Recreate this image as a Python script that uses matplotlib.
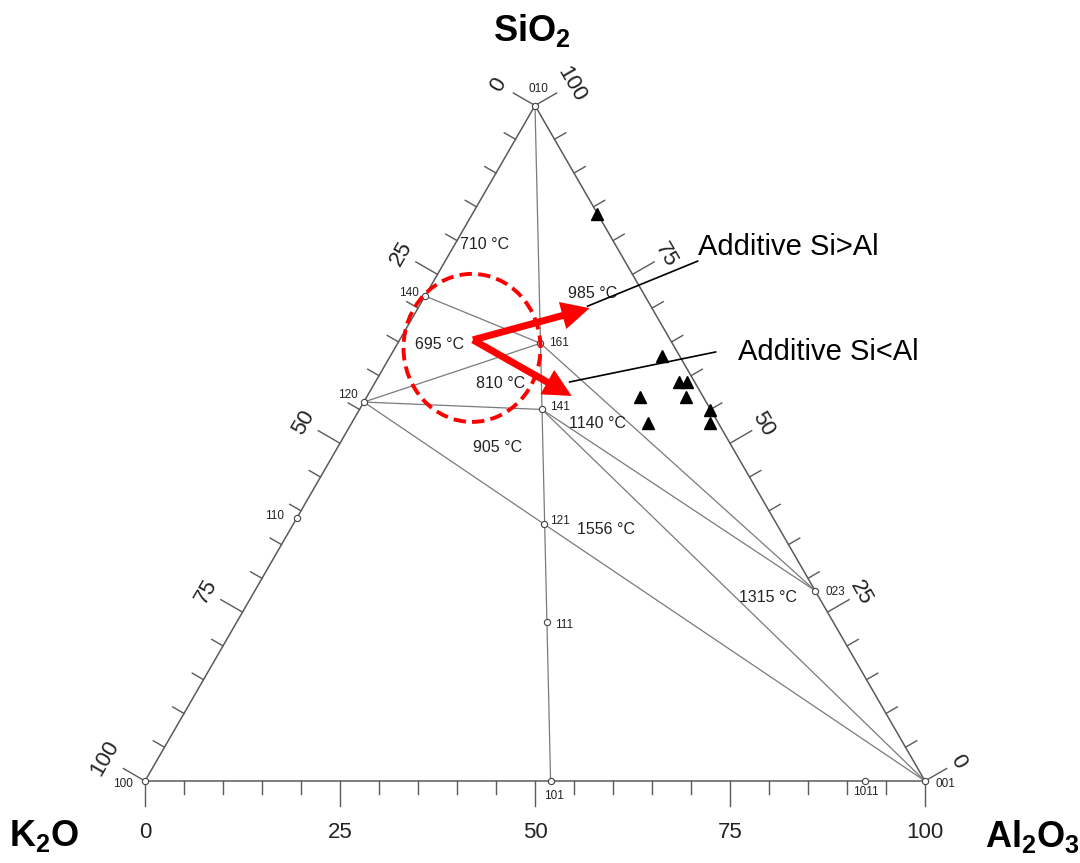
import numpy as np
import matplotlib
matplotlib.use("Agg")
import matplotlib.pyplot as plt
from matplotlib.patches import Ellipse

plt.rcParams["font.family"] = ["Liberation Sans", "DejaVu Sans"]
plt.rcParams["mathtext.default"] = "regular"

# ---- compounds of the K2O-SiO2-Al2O3 system (wt %) ----
compound_labels = ["010", "100", "001", "110", "120", "140", "101", "1011",
                   "023", "121", "111", "141", "161"]
compound_k2o = [0.0, 100.0, 0.0, 61.1, 43.9, 28.2, 48.0, 7.7,
                0.0, 29.8, 36.7, 21.6, 16.9]
compound_sio2 = [100.0, 0.0, 0.0, 38.9, 56.1, 71.8, 0.0, 0.0,
                 28.2, 38.0, 23.5, 55.0, 64.8]
compound_al2o3 = [0.0, 0.0, 100.0, 0.0, 0.0, 0.0, 52.0, 92.3,
                  71.8, 32.2, 39.8, 23.4, 18.3]

# compatibility joins between compounds
tie_lines = [("010", "101"), ("140", "161"), ("120", "161"), ("120", "141"),
             ("120", "121"), ("121", "001"), ("141", "001"), ("141", "023"),
             ("161", "023")]

# samples (wt %)
sample_k2o = [0.0, 2.3, 2.0, 1.0, 8.1, 2.2, 0.1, 9.0, 1.1]
sample_sio2 = [84.0, 62.9, 59.1, 59.1, 56.8, 56.8, 54.9, 53.0, 53.0]
sample_al2o3 = [16.0, 34.8, 38.9, 39.9, 35.1, 41.0, 45.0, 38.0, 45.9]

# eutectic / invariant temperatures in each compatibility field
temp_labels = ["710 °C", "985 °C", "695 °C", "810 °C", "1140 °C",
               "905 °C", "1556 °C", "1315 °C"]
temp_sio2 = [79.4, 72.1, 64.6, 58.9, 52.9, 49.3, 37.2, 27.2]
temp_al2o3 = [3.8, 21.4, 5.5, 16.1, 31.5, 20.5, 40.5, 66.3]

axis_ticks = [0, 25, 50, 75, 100]

# additive trend arrows (start composition, then two end compositions)
arrow_start = (65.3, 9.4)          # (SiO2, Al2O3)
arrow_ends = [(70.0, 22.0), (57.0, 26.2)]
arrow_texts = ["Additive Si>Al", "Additive Si<Al"]

SQ3 = np.sqrt(3) / 2
PX = 1 / 780.0  # one pixel in data units


def tern(k, s, a):
    t = k + s + a
    return (a + s / 2) / t, s * SQ3 / t


def tern_sa(s, a):
    return tern(100 - s - a, s, a)


fig = plt.figure(figsize=(10.8, 8.63), dpi=100)
ax = fig.add_axes([0, 0, 1, 1])
ax.set_xlim(-145 * PX, 935 * PX)
ax.set_ylim(-82 * PX, 781 * PX)
ax.axis("off")

edge_col = "#5a5a5a"
line_col = "#7a7a7a"

# triangle frame
corners = [tern(100, 0, 0), tern(0, 0, 100), tern(0, 100, 0), tern(100, 0, 0)]
ax.plot([c[0] for c in corners], [c[1] for c in corners], color=edge_col,
        lw=1.1, zorder=2)

# ticks every 5 %
n_left = np.array([-np.cos(np.pi / 6), np.sin(np.pi / 6)])
n_right = np.array([np.cos(np.pi / 6), np.sin(np.pi / 6)])
for i in range(21):
    f = i * 5
    L = (25 if f % 25 == 0 else 13) * PX
    # base (Al2O3 wt %)
    x, y = tern(100 - f, 0, f)
    ax.plot([x, x], [y, y - L], color=edge_col, lw=1.0)
    # left edge (K2O wt %)
    p = np.array(tern(f, 100 - f, 0))
    q = p + L * n_left
    ax.plot([p[0], q[0]], [p[1], q[1]], color=edge_col, lw=1.0)
    # right edge (SiO2 wt %)
    p = np.array(tern(0, f, 100 - f))
    q = p + L * n_right
    ax.plot([p[0], q[0]], [p[1], q[1]], color=edge_col, lw=1.0)

# tick labels
for v in axis_ticks:
    x, y = tern(100 - v, 0, v)
    ax.text(x, y - 51 * PX, str(v), ha="center", va="center", fontsize=16,
            color="#222222")
    p = np.array(tern(v, 100 - v, 0)) + (42 + (4 if v == 100 else 0)) * PX * n_left
    ax.text(p[0], p[1], str(v), ha="center", va="center", fontsize=16,
            rotation=60, rotation_mode="anchor", color="#222222")
    p = np.array(tern(0, v, 100 - v)) + (38 + (4 if v == 100 else 0)) * PX * n_right
    ax.text(p[0], p[1], str(v), ha="center", va="center", fontsize=16,
            rotation=-60, rotation_mode="anchor", color="#222222")

# corner titles
top = tern(0, 100, 0)
ax.text(top[0] - 3 * PX, top[1] + 75 * PX, r"SiO$_2$", ha="center", va="center",
        fontsize=26, fontweight="bold")
ax.text(-101 * PX, -55 * PX, r"K$_2$O", ha="center", va="center",
        fontsize=26, fontweight="bold")
ax.text(888 * PX, -55 * PX, r"Al$_2$O$_3$", ha="center", va="center",
        fontsize=26, fontweight="bold")

# compounds
pos = {lab: tern(k, s, a) for lab, k, s, a in
       zip(compound_labels, compound_k2o, compound_sio2, compound_al2o3)}

for a_lab, b_lab in tie_lines:
    (x1, y1), (x2, y2) = pos[a_lab], pos[b_lab]
    ax.plot([x1, x2], [y1, y2], color=line_col, lw=0.9, zorder=2)

label_offsets = {"010": (3, 17), "100": (-22, -3), "001": (20, -3),
                 "110": (-22, 2), "120": (-16, 7), "140": (-16, 3),
                 "101": (3, -15), "1011": (1, -11), "023": (20, -1),
                 "121": (16, 3), "111": (17, -3), "141": (18, 2),
                 "161": (19, 0)}
cx = [pos[l][0] for l in compound_labels]
cy = [pos[l][1] for l in compound_labels]
ax.plot(cx, cy, "o", ms=4.5, mfc="white", mec="#444444", mew=0.8,
        ls="none", zorder=4)
for lab in compound_labels:
    dx, dy = label_offsets[lab]
    ax.text(pos[lab][0] + dx * PX, pos[lab][1] + dy * PX, lab, ha="center",
            va="center", fontsize=8.5, color="#222222")

# temperature labels
for t, s, a in zip(temp_labels, temp_sio2, temp_al2o3):
    x, y = tern_sa(s, a)
    ax.text(x, y, t, ha="center", va="center", fontsize=11.5, color="#222222")

# samples
sx, sy = zip(*[tern(k, s, a) for k, s, a in zip(sample_k2o, sample_sio2, sample_al2o3)])
ax.plot(sx, sy, "^", ms=8.5, color="black", ls="none", zorder=5)

# highlighted region and additive arrows
ell_c = tern_sa(*arrow_start)
ax.add_patch(Ellipse((ell_c[0] - 1 * PX, ell_c[1] - 8 * PX), 137 * PX, 148 * PX,
                     fill=False, ec="#ff0000", lw=2.8,
                     ls=(0, (3.2, 1.6)), zorder=6))

x0, y0 = tern_sa(*arrow_start)
for (s, a) in arrow_ends:
    x1, y1 = tern_sa(s, a)
    ax.arrow(x0, y0, x1 - x0, y1 - y0, width=7 * PX, head_width=28 * PX,
             head_length=28 * PX, length_includes_head=True,
             fc="#ff0000", ec="#ff0000", lw=0, zorder=7)

# leader lines and captions
tip1 = tern_sa(*arrow_ends[0])
tip2 = tern_sa(*arrow_ends[1])
ax.plot([tip1[0] - 2 * PX, tip1[0] + 108 * PX], [tip1[1] + 2 * PX, tip1[1] + 47 * PX],
        color="black", lw=1.2, zorder=8)
ax.text(tip1[0] + 108 * PX, tip1[1] + 47 * PX, arrow_texts[0], ha="left",
        va="bottom", fontsize=21)
ax.plot([tip2[0] - 2 * PX, tip2[0] + 144 * PX], [tip2[1] + 14 * PX, tip2[1] + 44 * PX],
        color="black", lw=1.2, zorder=8)
ax.text(tip2[0] + 166 * PX, tip2[1] + 44 * PX, arrow_texts[1], ha="left",
        va="center", fontsize=21)

fig.savefig("out.png", dpi=100)
